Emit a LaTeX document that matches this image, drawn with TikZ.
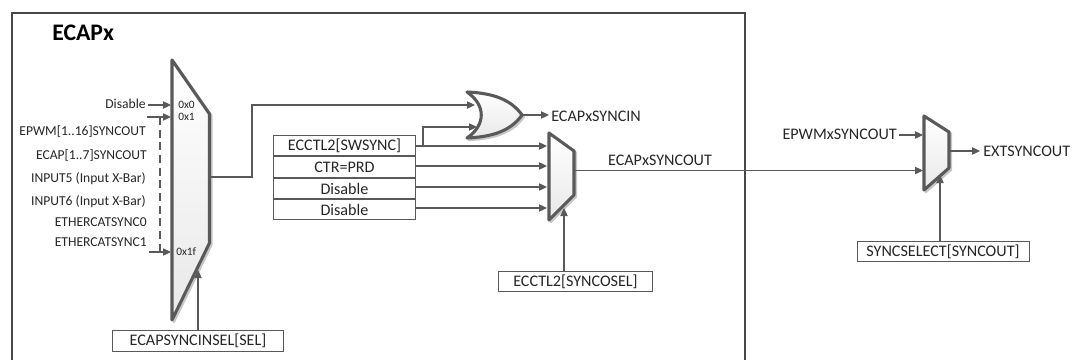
\documentclass[tikz,border=0pt]{standalone}
\usepackage{fontspec}
\setmainfont{Carlito}
\usetikzlibrary{arrows.meta}
\definecolor{ln}{HTML}{595959}
\definecolor{dk}{HTML}{262626}
\tikzset{
 x=0.75pt,y=-0.75pt,
 wire/.style={draw=ln,line width=0.85pt,-{Triangle[length=6pt,width=5.5pt]}},
 dashwire/.style={draw=ln,line width=0.85pt,dash pattern=on 6pt off 3.5pt},
 muxshape/.style={draw=ln,line width=2.3pt,line join=round,top color=white,bottom color=black!9},
 muxshade/.style={draw=black!22,line width=2pt,line join=round,shift={(1.8,1.8)}},
 box/.style={draw=ln,line width=0.7pt,fill=white,inner sep=0pt,minimum height=15.6pt,text=dk,font=\fontsize{12.1}{12}\selectfont},
 lab/.style={inner sep=0pt,text=dk,font=\fontsize{12.1}{12}\selectfont},
 smalllab/.style={inner sep=0pt,text=dk,font=\fontsize{10.2}{10}\selectfont},
 tinylab/.style={inner sep=0pt,text=dk,font=\fontsize{8.5}{9}\selectfont},
}
\begin{document}
\begin{tikzpicture}
\useasboundingbox (0,0) rectangle (1080,360);
\draw[draw=dk!85,line width=0.8pt] (12,360) -- (12,13) -- (745,13) -- (745,360);
\node[inner sep=0pt,anchor=west,text=black,font=\bfseries\fontsize{17.8}{18}\selectfont] (title) at (52,33) {ECAPx};
% left mux
\path[muxshade] (172,60) -- (209.5,114) -- (209.5,243) -- (172,320) -- cycle;
\path[muxshape] (172,60) -- (209.5,114) -- (209.5,243) -- (172,320) -- cycle;
\coordinate (m1out) at (210,177);
\coordinate (m1sel) at (198,270);
\node[tinylab,anchor=west] (t0) at (178,105) {0x0};
\node[tinylab,anchor=west] (t1) at (178,117) {0x1};
\node[tinylab,anchor=west] (t2) at (176,252) {0x1f};
\coordinate (in0) at (171,105);
\coordinate (in1) at (171,117);
\coordinate (in2) at (171,252);
\node[smalllab,anchor=east] (l0) at (146,104) {Disable};
\coordinate (d0s) at (148,105);
\coordinate (d1s) at (147,117);
\coordinate (d2s) at (149,252);
\coordinate (dt) at (160,117);
\coordinate (db) at (160,252);
\draw[wire] (d0s) -- (in0);
\draw[wire] (d1s) -- (in1);
\draw[wire] (d2s) -- (in2);
\draw[dashwire] (dt) -- (db);
\node[smalllab,anchor=east] (l1) at (146,132) {EPWM[1..16]SYNCOUT};
\node[smalllab,anchor=east] (l2) at (147,156) {ECAP[1..7]SYNCOUT};
\node[smalllab,anchor=east] (l3) at (146,179) {INPUT5 (Input X-Bar)};
\node[smalllab,anchor=east] (l4) at (146,202) {INPUT6 (Input X-Bar)};
\node[smalllab,anchor=east] (l5) at (147,222) {ETHERCATSYNC0};
\node[smalllab,anchor=east] (l6) at (147,242) {ETHERCATSYNC1};
\node[box,minimum width=127.6pt] (selin) at (198,341) {ECAPSYNCINSEL[SEL]};
\draw[wire] (selin.north) -- (m1sel);
% OR gate
\path[muxshade] (467,92) .. controls (490,93) and (510,98) .. (522,115) .. controls (510,132) and (490,137) .. (467,138) .. controls (486,125) and (486,105) .. (467,92) -- cycle;
\path[muxshape] (467,92) .. controls (490,93) and (510,98) .. (522,115) .. controls (510,132) and (490,137) .. (467,138) .. controls (486,125) and (486,105) .. (467,92) -- cycle;
\coordinate (orA) at (475,105);
\coordinate (orB) at (477,127);
\coordinate (orO) at (523,115);
\coordinate (r1) at (252,177);
\coordinate (r2) at (252,105);
\draw[wire] (m1out) -- (r1) -- (r2) -- (orA);
\node[lab,anchor=west] (ecin) at (551,116) {ECAPxSYNCIN};
\coordinate (ecinA) at (549,115);
\draw[wire] (orO) -- (ecinA);
% table
\node[box,minimum width=107pt] (b1) at (344.5,145.5) {ECCTL2[SWSYNC]};
\node[box,minimum width=107pt] (b2) at (344.5,167) {CTR=PRD};
\node[box,minimum width=107pt] (b3) at (344.5,188.5) {Disable};
\node[box,minimum width=107pt] (b4) at (344.5,209.5) {Disable};
\path[muxshade] (549,133) -- (574,151) -- (574,195) -- (549,220) -- cycle;
\path[muxshape] (549,133) -- (574,151) -- (574,195) -- (549,220) -- cycle;
\coordinate (a1) at (547,146);
\coordinate (a2) at (547,166);
\coordinate (a3) at (547,187);
\coordinate (a4) at (547,208);
\coordinate (j1) at (423,146);
\coordinate (j2) at (423,127);
\coordinate (w1) at (416,146);
\coordinate (w2) at (416,166);
\coordinate (w3) at (416,187);
\coordinate (w4) at (416,208);
\draw[wire] (w1) -- (a1);
\draw[wire] (j1) -- (j2) -- (orB);
\draw[wire] (w2) -- (a2);
\draw[wire] (w3) -- (a3);
\draw[wire] (w4) -- (a4);
\node[box,minimum width=116pt] (sel2) at (575.5,281.5) {ECCTL2[SYNCOSEL]};
\coordinate (sel2T) at (564,271);
\coordinate (sel2E) at (564,208);
\draw[wire] (sel2T) -- (sel2E);
% right mux
\path[muxshade] (924,116) -- (949,132) -- (949,168) -- (924,190) -- cycle;
\path[muxshape] (924,116) -- (949,132) -- (949,168) -- (924,190) -- cycle;
\node[lab,anchor=east] (epwm) at (897,134) {EPWMxSYNCOUT};
\coordinate (e1) at (899,135);
\coordinate (e2) at (923,135);
\draw[wire] (e1) -- (e2);
\node[lab,anchor=center] (ecout) at (660,160) {ECAPxSYNCOUT};
\coordinate (o1) at (575,170.5);
\coordinate (o2) at (923,170.5);
\draw[wire] (o1) -- (o2);
\node[lab,anchor=west] (ext) at (983,151) {EXTSYNCOUT};
\coordinate (x1) at (950,151);
\coordinate (x2) at (980,151);
\draw[wire] (x1) -- (x2);
\node[box,minimum width=129pt] (sel3) at (943,251.5) {SYNCSELECT[SYNCOUT]};
\coordinate (s1) at (940,241);
\coordinate (s2) at (940,175);
\draw[wire] (s1) -- (s2);
\end{tikzpicture}
\end{document}
